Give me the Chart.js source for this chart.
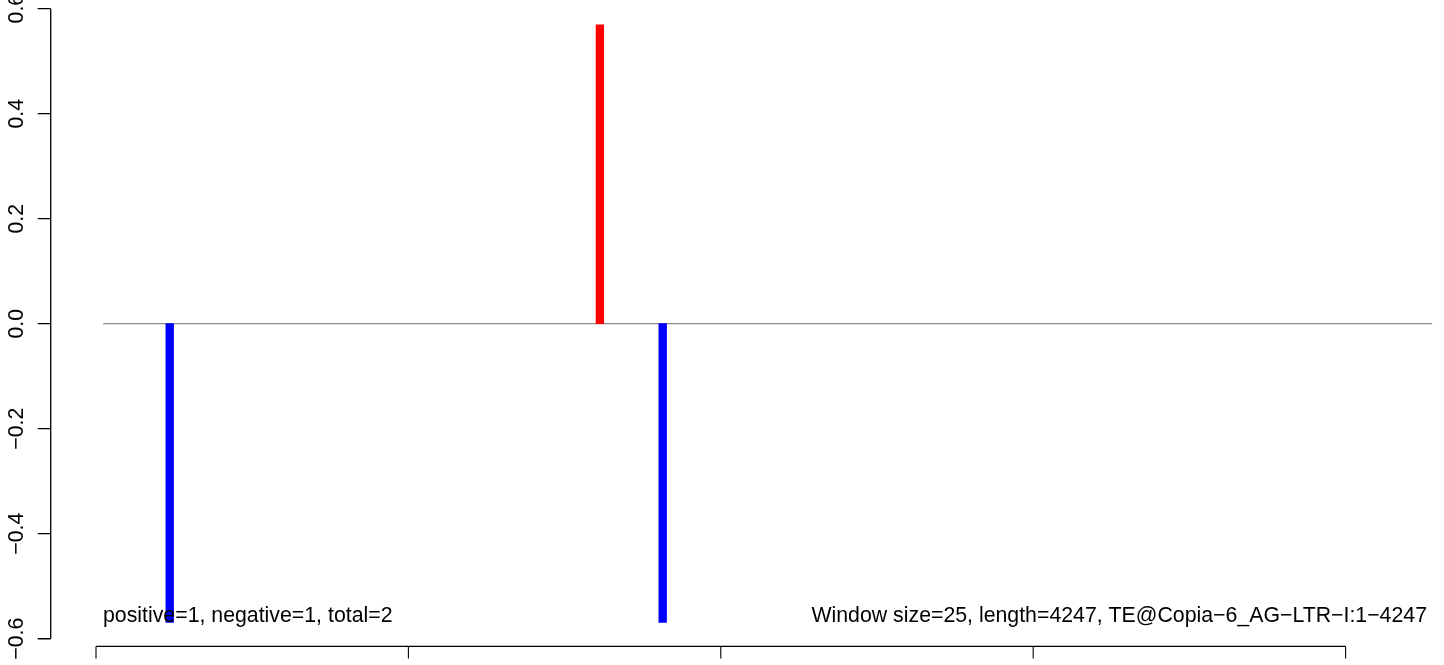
<!DOCTYPE html>
<html>
<head>
<meta charset="utf-8">
<script src="https://cdn.jsdelivr.net/npm/chart.js@4"></script>
<style>
  html, body { margin: 0; padding: 0; background: #ffffff; overflow: hidden; }
  canvas { display: block; }
</style>
</head>
<body>
<canvas id="c" width="1444" height="665"></canvas>
<script>
// ---- data ----
const positions = [236, 1613, 1814];          // window positions (bp)
const values = [-0.569, 0.569, -0.569];       // signal values
const yTicks = [-0.6, -0.4, -0.2, 0.0, 0.2, 0.4, 0.6];
const yTickLabels = ["\u22120.6", "\u22120.4", "\u22120.2", "0.0", "0.2", "0.4", "0.6"];
const xTicks = [0, 1000, 2000, 3000, 4000];
const zeroLineRange = [23, 4277];
const leftNote = "positive=1, negative=1, total=2";
const rightNote = "Window size=25, length=4247, TE@Copia\u22126_AG\u2212LTR\u2212I:1\u22124247";

const X_MIN = -145, X_MAX = 4315;
const Y_MAX = 0.6146, Y_MIN = -0.6146;
const FONT = '21.3px "Liberation Sans", Arial, Helvetica, sans-serif';

const barColors = values.map(v => v >= 0 ? '#ff0000' : '#0000ff');

const axesPlugin = {
  id: 'rAxes',
  afterDraw(chart) {
    const ctx = chart.ctx;
    const xs = chart.scales.x, ys = chart.scales.y;
    ctx.save();
    ctx.strokeStyle = '#000';
    ctx.fillStyle = '#000';
    ctx.lineWidth = 1.3;
    // y axis
    const ax = 50.7;
    ctx.beginPath();
    ctx.moveTo(ax, ys.getPixelForValue(yTicks[0]));
    ctx.lineTo(ax, ys.getPixelForValue(yTicks[yTicks.length - 1]));
    yTicks.forEach(t => {
      const py = ys.getPixelForValue(t);
      ctx.moveTo(ax, py);
      ctx.lineTo(ax - 13, py);
    });
    ctx.stroke();
    // x axis
    const ay = chart.chartArea.bottom;
    ctx.lineWidth = 1.1;
    ctx.beginPath();
    ctx.moveTo(xs.getPixelForValue(xTicks[0]), ay);
    ctx.lineTo(xs.getPixelForValue(xTicks[xTicks.length - 1]), ay);
    xTicks.forEach(t => {
      const px = xs.getPixelForValue(t);
      ctx.moveTo(px, ay);
      ctx.lineTo(px, ay + 12);
    });
    ctx.stroke();
    // y labels (rotated)
    ctx.font = FONT;
    ctx.textAlign = 'center';
    ctx.textBaseline = 'alphabetic';
    yTicks.forEach((t, i) => {
      const py = ys.getPixelForValue(t);
      ctx.save();
      ctx.translate(22.5, py);
      ctx.rotate(-Math.PI / 2);
      ctx.fillText(yTickLabels[i], 0, 0);
      ctx.restore();
    });
    // notes
    const baseY = 621.5;
    ctx.textAlign = 'left';
    ctx.fillText(leftNote, 103, baseY);
    ctx.textAlign = 'right';
    ctx.fillText(rightNote, 1427, baseY);
    ctx.restore();
  }
};

new Chart(document.getElementById('c'), {
  data: {
    datasets: [
      {
        type: 'line',
        data: zeroLineRange.map(x => ({ x: x, y: 0 })),
        borderColor: '#8c8c8c',
        borderWidth: 1.2,
        pointRadius: 0,
        order: 2
      },
      {
        type: 'bar',
        data: positions.map((x, i) => ({ x: x, y: values[i] })),
        backgroundColor: barColors,
        borderWidth: 0,
        barThickness: 7.7,
        grouped: false,
        order: 1
      }
    ]
  },
  options: {
    responsive: false,
    animation: false,
    devicePixelRatio: 1,
    layout: { padding: { left: 50.7, right: 0, top: 1, bottom: 18.6 } },
    plugins: { legend: { display: false }, tooltip: { enabled: false }, title: { display: false } },
    scales: {
      x: { type: 'linear', min: X_MIN, max: X_MAX, display: false, offset: false },
      y: { type: 'linear', min: Y_MIN, max: Y_MAX, display: false }
    }
  },
  plugins: [axesPlugin]
});
</script>
</body>
</html>
